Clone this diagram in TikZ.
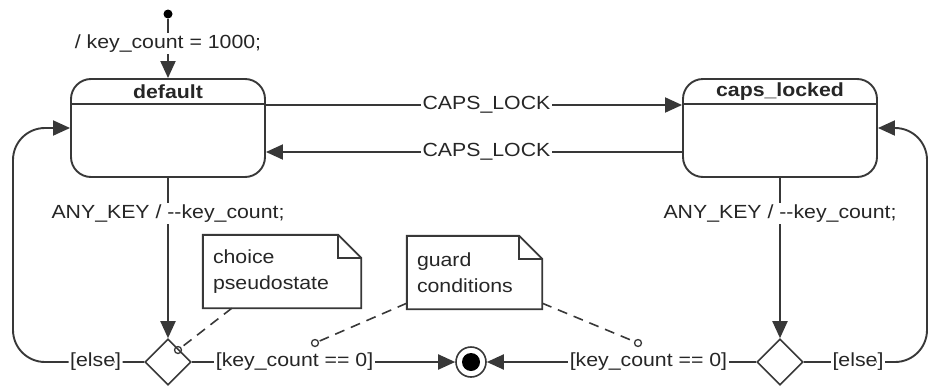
\documentclass[tikz,border=0pt]{standalone}
\usepackage{fontspec}
\setmainfont[FakeStretch=1.12]{Liberation Sans}
\usetikzlibrary{arrows.meta,shapes.geometric}
\begin{document}
\begin{tikzpicture}[x=1pt,y=-1pt,
  wire/.style={draw=black!78, line width=1.9pt},
  conn/.style={wire, -{Triangle[length=17pt,width=15pt]}},
  statebox/.style={wire, rounded corners=20pt, minimum width=194pt, minimum height=98pt, inner sep=0},
  lbl/.style={fill=white, text=black!85, font=\fontsize{19}{22}\selectfont, inner sep=1.5pt},
  title/.style={text=black!85, font=\fontsize{19}{22}\selectfont\bfseries, inner sep=0},
  choicebox/.style={diamond, draw=black!78, line width=1.6pt, minimum width=46pt, minimum height=46pt, inner sep=0},
  notebox/.style={inner xsep=10pt, inner ysep=0pt, minimum height=73pt, align=left, text=black!85, font=\fontsize{19}{26}\selectfont},
  dot/.style={circle, fill=black, inner sep=0, minimum size=9pt},
  pin/.style={circle, draw=black!78, line width=1.3pt, inner sep=0, minimum size=7pt},
  notelink/.style={draw=black!78, line width=1.6pt, dash pattern=on 10pt off 7pt}
]
\useasboundingbox (0,0) rectangle (930,386);

% states
\node[statebox] (def) at (168,128) {};
\node[title] (deft) at (168,92) {default};
\draw[wire] ([yshift=-26pt]def.north west) -- ([yshift=-26pt]def.north east);

\node[statebox] (caps) at (780,128) {};
\node[title] (capst) at (780,92) {caps\_locked};
\draw[wire] ([yshift=-26pt]caps.north west) -- ([yshift=-26pt]caps.north east);

% pseudostates
\node[dot] (init) at (168,14) {};
\node[choicebox] (ch1) at (168,362) {};
\node[choicebox] (ch2) at (780,362) {};
\node[circle, draw=black!78, line width=1.6pt, minimum size=30pt, inner sep=0] (fin) at (471,362) {};
\node[dot, minimum size=18pt] (finc) at (fin.center) {};

% transitions
\draw[conn] (init) -- node[lbl,pos=0.42]{/ key\_count = 1000;} (def.north);
\draw[conn] ([yshift=23pt]def.east) -- node[lbl,pos=0.53]{CAPS\_LOCK} ([yshift=23pt]caps.west);
\draw[conn] ([yshift=-24pt]caps.west) -- node[lbl,pos=0.47]{CAPS\_LOCK} ([yshift=-24pt]def.east);
\draw[conn] (def.south) -- node[lbl,pos=0.22]{ANY\_KEY / -\kern0pt-key\_count;} (ch1.north);
\draw[conn] (caps.south) -- node[lbl,pos=0.22]{ANY\_KEY / -\kern0pt-key\_count;} (ch2.north);
\draw[conn] (ch1.east) -- node[lbl,pos=0.39]{[key\_count == 0]} (fin.west);
\draw[conn] (ch2.west) -- node[lbl,pos=0.40]{[key\_count == 0]} (fin.east);
\draw[conn, rounded corners=32pt] (ch1.west) -- node[lbl,pos=0.37]{[else]} (13,362) -- (13,128) -- (def.west);
\draw[conn, rounded corners=32pt] (ch2.east) -- node[lbl,pos=0.44]{[else]} (927,362) -- (927,128) -- (caps.east);

% notes
\node[notebox, text width=138pt] (n1) at (282,271.5) {choice\\pseudostate};
\draw[wire] (n1.north west) -- ([xshift=-23pt]n1.north east) -- ([yshift=-23pt]n1.north east) -- (n1.south east) -- (n1.south west) -- cycle;
\draw[wire] ([xshift=-23pt]n1.north east) |- ([yshift=-23pt]n1.north east);

\node[notebox, text width=115pt] (n2) at (474.5,272.5) {guard\\conditions};
\draw[wire] (n2.north west) -- ([xshift=-23pt]n2.north east) -- ([yshift=-23pt]n2.north east) -- (n2.south east) -- (n2.south west) -- cycle;
\draw[wire] ([xshift=-23pt]n2.north east) |- ([yshift=-23pt]n2.north east);

\node[pin] (p1) at (178,350) {};
\node[pin] (p2) at (315,343) {};
\node[pin] (p3) at (638,343) {};
\draw[notelink] ([xshift=29pt]n1.south west) -- (p1);
\draw[notelink] ([yshift=6pt]n2.south west) -- (p2);
\draw[notelink] ([yshift=6pt]n2.south east) -- (p3);
\end{tikzpicture}
\end{document}
